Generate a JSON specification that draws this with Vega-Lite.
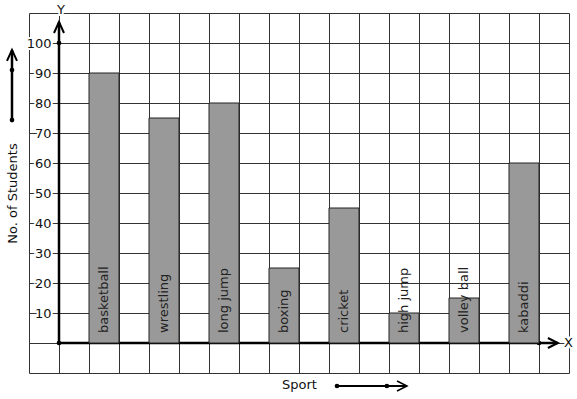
{
  "$schema": "https://vega.github.io/schema/vega-lite/v6.json",
  "width": 540,
  "height": 360,
  "autosize": {"type": "none"},
  "padding": {"left": 29, "top": 13, "right": 8, "bottom": 26},
  "config": {"view": {"stroke": null}, "font": "DejaVu Sans"},
  "layer": [
    {
      "data": {"values": [{}]},
      "layer": [
        {
          "mark": {"type": "rule", "color": "black", "strokeWidth": 2.5},
          "encoding": {
            "x": {
              "datum": 0, "type": "quantitative",
              "scale": {"domain": [-1, 17], "nice": false, "zero": false},
              "axis": {
                "values": [-1,0,1,2,3,4,5,6,7,8,9,10,11,12,13,14,15,16,17],
                "tickCount": 40,
                "grid": true, "gridColor": "#333", "gridOpacity": 1, "gridWidth": 1,
                "labels": false, "ticks": false, "domain": false,
                "title": "Sport", "titleFont": "DejaVu Sans", "titleFontSize": 13,
                "titleFontWeight": "normal", "titleColor": "#111", "titlePadding": 5,
                "zindex": 0
              }
            },
            "y": {
              "datum": 0, "type": "quantitative",
              "scale": {"domain": [-10, 110], "nice": false, "zero": false},
              "axis": {
                "orient": "left",
                "values": [-10,0,10,20,30,40,50,60,70,80,90,100,110],
                "tickCount": 40,
                "grid": true, "gridColor": "#333", "gridOpacity": 1, "gridWidth": 1,
                "ticks": false, "domain": false, "title": null,
                "labelExpr": "datum.value >= 10 && datum.value <= 100 ? datum.label : ''",
                "labelColor": "white", "labelFont": "DejaVu Sans", "labelFontSize": 13,
                "labelPadding": -22, "labelOverlap": false, "labelBound": false,
                "encoding": {"labels": {"stroke": {"value": "white"}, "strokeWidth": {"value": 4}}},
                "zindex": 0
              }
            },
            "y2": {"datum": 107}
          }
        },
        {
          "mark": {"type": "rule", "color": "black", "strokeWidth": 2.5},
          "encoding": {
            "x": {"datum": 0},
            "x2": {"datum": 16.63},
            "y": {"datum": 0}
          }
        },
        {
          "mark": {"type": "rule", "color": "black", "strokeWidth": 2.5},
          "encoding": {
            "x": {"datum": -1.567},
            "y": {"datum": 74.3},
            "y2": {"datum": 97.7}
          }
        },
        {
          "mark": {"type": "rule", "color": "black", "strokeWidth": 2},
          "encoding": {
            "x": {"datum": 9.267},
            "x2": {"datum": 11.6},
            "y": {"datum": -14.33}
          }
        },
        {
          "mark": {"type": "point", "shape": "M-1,2.2L0,0L1,2.2", "size": 100, "filled": false, "color": "black", "strokeWidth": 2, "opacity": 1},
          "encoding": {
            "x": {"datum": 0},
            "y": {"datum": 107}
          }
        },
        {
          "mark": {"type": "point", "shape": "M-1,2.2L0,0L1,2.2", "size": 100, "filled": false, "color": "black", "strokeWidth": 2, "opacity": 1},
          "encoding": {
            "x": {"datum": -1.567},
            "y": {"datum": 97.7}
          }
        },
        {
          "mark": {"type": "point", "shape": "M-2,-1L0,0L-2,1", "size": 100, "filled": false, "color": "black", "strokeWidth": 2, "opacity": 1},
          "encoding": {
            "x": {"datum": 16.63},
            "y": {"datum": 0}
          }
        },
        {
          "mark": {"type": "point", "shape": "M-2,-1L0,0L-2,1", "size": 100, "filled": false, "color": "black", "strokeWidth": 1.5, "opacity": 1},
          "encoding": {
            "x": {"datum": 11.6},
            "y": {"datum": -14.33}
          }
        },
        {
          "data": {"values": [{"u": 0, "v": 100}, {"u": 0, "v": 0}, {"u": 16, "v": 0}, {"u": -1.567, "v": 74.3}, {"u": -1.567, "v": 91}, {"u": 9.267, "v": -14.33}, {"u": 10.93, "v": -14.33}]},
          "mark": {"type": "point", "shape": "circle", "size": 22, "filled": true, "color": "black", "opacity": 1},
          "encoding": {
            "x": {"field": "u", "type": "quantitative"},
            "y": {"field": "v", "type": "quantitative"}
          }
        },
        {
          "data": {"values": [{"u": 0.067, "v": 111, "t": "Y"}, {"u": 16.98, "v": 0, "t": "X"}]},
          "mark": {"type": "text", "fontSize": 13, "align": "center", "baseline": "middle", "color": "white", "stroke": "white", "strokeWidth": 4},
          "encoding": {
            "x": {"field": "u", "type": "quantitative"},
            "y": {"field": "v", "type": "quantitative"},
            "text": {"field": "t"}
          }
        },
        {
          "data": {"values": [{"u": 0.067, "v": 111, "t": "Y"}, {"u": 16.98, "v": 0, "t": "X"}]},
          "mark": {"type": "text", "fontSize": 13, "align": "center", "baseline": "middle", "color": "#111"},
          "encoding": {
            "x": {"field": "u", "type": "quantitative"},
            "y": {"field": "v", "type": "quantitative"},
            "text": {"field": "t"}
          }
        }
      ]
    },
    {
      "data": {"values": [
        {"sport": "basketball", "students": 90},
        {"sport": "wrestling", "students": 75},
        {"sport": "long jump", "students": 80},
        {"sport": "boxing", "students": 25},
        {"sport": "cricket", "students": 45},
        {"sport": "high jump", "students": 10},
        {"sport": "volley ball", "students": 15},
        {"sport": "kabaddi", "students": 60}
      ]},
      "layer": [
        {
          "mark": {"type": "bar", "fill": "#999999", "stroke": "#222", "strokeWidth": 1},
          "encoding": {
            "x": {
              "field": "sport", "type": "nominal", "sort": null,
              "scale": {"paddingInner": 0.5, "paddingOuter": 0.75, "align": 0.6667},
              "axis": null
            },
            "y": {
              "field": "students", "type": "quantitative",
              "axis": {
                "orient": "left",
                "values": [10,20,30,40,50,60,70,80,90,100],
                "tickCount": 40,
                "grid": false, "ticks": false, "domain": false,
                "labelColor": "#111", "labelFont": "DejaVu Sans", "labelFontSize": 13,
                "labelPadding": -22, "labelOverlap": false, "labelBound": false,
                "title": "No. of Students", "titleFont": "DejaVu Sans", "titleFontSize": 13,
                "titleFontWeight": "normal", "titleColor": "#111",
                "titleX": -17, "titleY": 180, "titleAngle": -90,
                "titleAlign": "center", "titleBaseline": "middle",
                "zindex": 1
              }
            }
          }
        },
        {
          "mark": {"type": "text", "angle": 270, "align": "left", "baseline": "middle", "dx": 10, "fontSize": 13, "color": "#222"},
          "encoding": {
            "x": {"field": "sport", "type": "nominal", "sort": null, "axis": null},
            "y": {"datum": 0},
            "text": {"field": "sport"}
          }
        }
      ]
    }
  ],
  "resolve": {"scale": {"x": "independent"}, "axis": {"x": "independent", "y": "independent"}}
}
